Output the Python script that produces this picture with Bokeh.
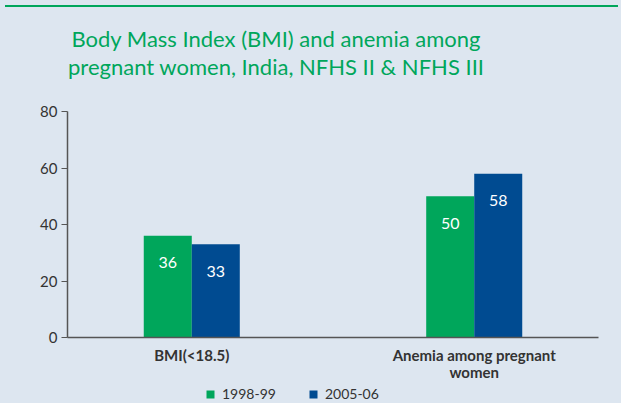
from bokeh.plotting import figure
from bokeh.models import (ColumnDataSource, FactorRange, Range1d, Legend,
                          LegendItem, Div, FixedTicker, CategoricalAxis)
from bokeh.layouts import column
from bokeh.transform import dodge
from bokeh.embed import file_html
from bokeh.resources import INLINE
from bokeh.core.properties import value

# ---- data ----
categories = ["BMI(<18.5)", "Anemia among pregnant women"]
label_line1 = ["BMI(<18.5)", "Anemia among pregnant"]
label_line2 = [" ", "women"]
series_names = ["1998-99", "2005-06"]
values_1998 = [36, 50]
values_2005 = [33, 58]
y_ticks = [0, 20, 40, 60, 80]
title_lines = ["Body Mass Index (BMI) and anemia among",
               "pregnant women, India, NFHS II &amp; NFHS III"]

GREEN = "#00a65b"
BLUE = "#004b91"
BG = "#dde6f0"
TXT = "#333333"
FONT = "Lato"
PAD = -0.06
W = 613

src = ColumnDataSource(dict(
    cat=categories,
    v1=values_1998,
    v2=values_2005,
    l1=[str(v) for v in values_1998],
    l2=[str(v) for v in values_2005],
))

# ---------------- main chart ----------------
p = figure(width=W, height=293,
           x_range=FactorRange(factors=categories, range_padding=PAD),
           y_range=Range1d(0, 80), x_axis_location=None,
           output_backend="svg", toolbar_location=None,
           min_border_left=67, min_border_right=15,
           min_border_top=21, min_border_bottom=40)
p.title.visible = False
p.background_fill_color = BG
p.border_fill_color = BG
p.outline_line_color = None
p.xgrid.visible = False
p.ygrid.visible = False
p.extra_x_ranges = {
    "line1": FactorRange(factors=label_line1, range_padding=PAD),
    "line2": FactorRange(factors=label_line2, range_padding=PAD),
}

bw = 0.17
p.vbar(x=dodge("cat", -bw / 2, range=p.x_range), top="v1", width=bw,
       source=src, fill_color=GREEN, line_color=None)
p.vbar(x=dodge("cat", bw / 2, range=p.x_range), top="v2", width=bw,
       source=src, fill_color=BLUE, line_color=None)

for col, lab, off in (("v1", "l1", -bw / 2), ("v2", "l2", bw / 2)):
    p.text(x=dodge("cat", off, range=p.x_range), y=col, text=lab, source=src,
           y_offset=27, text_align="center", text_baseline="middle",
           text_color="white", text_font_size="16px", text_font=value(FONT))

# y axis
p.yaxis.ticker = FixedTicker(ticks=y_ticks)
p.yaxis.axis_line_color = "#555555"
p.yaxis.axis_line_width = 1.5
p.yaxis.major_label_text_color = TXT
p.yaxis.major_label_text_font = FONT
p.yaxis.major_label_text_font_size = "15px"
p.yaxis.major_label_standoff = 4
p.yaxis.minor_tick_line_color = None
p.yaxis.major_tick_out = 6
p.yaxis.major_tick_in = 0
p.yaxis.major_tick_line_color = "#555555"

# x axes: two rows of category text
common = dict(major_tick_line_color=None, major_tick_out=0, major_tick_in=0,
              minor_tick_line_color=None, major_label_text_font=FONT,
              major_label_text_font_size="15px", major_label_text_font_style="bold",
              major_label_text_color=TXT)
ax1 = CategoricalAxis(x_range_name="line1", axis_line_color="#555555",
                      axis_line_width=1.5, major_label_standoff=8, **common)
ax2 = CategoricalAxis(x_range_name="line2", axis_line_color=None,
                      major_label_standoff=-4, **common)
p.add_layout(ax1, "below")
p.add_layout(ax2, "below")

# ---------------- legend strip ----------------
lf = figure(width=W, height=20, x_range=FactorRange(factors=categories),
            x_axis_location=None, y_axis_location=None,
            output_backend="svg", toolbar_location=None,
            min_border_left=67, min_border_right=15,
            min_border_top=0, min_border_bottom=0)
lf.title.visible = False
lf.background_fill_color = BG
lf.border_fill_color = BG
lf.outline_line_color = None
lf.grid.visible = False
g1 = lf.vbar(x="cat", top="v1", width=0.3, source=src,
             fill_color=GREEN, line_color=None, visible=False)
g2 = lf.vbar(x="cat", top="v2", width=0.3, source=src,
             fill_color=BLUE, line_color=None, visible=False)
legend = Legend(items=[LegendItem(label=series_names[0], renderers=[g1]),
                       LegendItem(label=series_names[1], renderers=[g2])],
                orientation="horizontal", location=(138, 1),
                padding=0, margin=0, spacing=32, label_standoff=7,
                glyph_width=10, glyph_height=10, label_height=16,
                label_text_font=FONT, label_text_font_size="14px",
                label_text_color=TXT, border_line_color=None,
                background_fill_alpha=0, inactive_fill_alpha=0)
lf.add_layout(legend)

# ---------------- title block ----------------
title_html = (
    f'<div style="padding-top:18px; width:542px; text-align:center; '
    f'font-family:{FONT}; font-size:22px; line-height:28px; color:{GREEN}; '
    f'white-space:nowrap;">{title_lines[0]}<br>{title_lines[1]}</div>'
)
title_div = Div(text=title_html, width=W, height=80,
                styles={"background-color": BG,
                        "border-top": f"2px solid {GREEN}",
                        "box-sizing": "border-box"})

layout = column(title_div, p, lf, spacing=0,
                styles={"background-color": BG})

open("out.html", "w").write(file_html(layout, INLINE))
